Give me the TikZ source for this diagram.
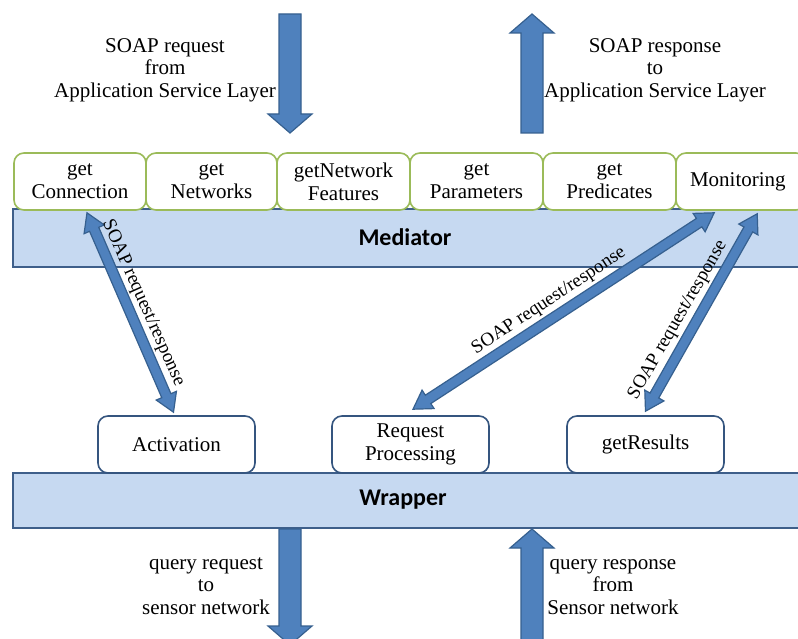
\documentclass[tikz,border=0pt]{standalone}
\usepackage{fontspec}
\setmainfont{Liberation Serif}
\newfontfamily\calfont{Carlito}
\usetikzlibrary{calc}
\definecolor{arrfill}{HTML}{4F81BD}
\definecolor{arrdraw}{HTML}{36608F}
\definecolor{barfill}{HTML}{C6D9F1}
\definecolor{bardraw}{HTML}{3E5F8A}
\definecolor{topdraw}{HTML}{9BBB59}
\definecolor{botdraw}{HTML}{35557F}
\newcommand\dblblock[5]{%
  \coordinate (tmpa) at ($(#1)!#3!(#2)$);
  \coordinate (tmpb) at ($(#2)!#3!(#1)$);
  \draw[blockarrow] (#1) -- ($(tmpa)!#4!90:(#2)$) -- ($(tmpa)!#5!90:(#2)$)
    -- ($(tmpb)!#5!-90:(#1)$) -- ($(tmpb)!#4!-90:(#1)$) -- (#2)
    -- ($(tmpb)!#4!90:(#1)$) -- ($(tmpb)!#5!90:(#1)$)
    -- ($(tmpa)!#5!-90:(#2)$) -- ($(tmpa)!#4!-90:(#2)$) -- cycle;}
\newcommand\oneblock[5]{%
  \coordinate (tmpb) at ($(#2)!#3!(#1)$);
  \draw[blockarrow] ($(#1)!#5!90:(#2)$) -- ($(tmpb)!#5!-90:(#1)$)
    -- ($(tmpb)!#4!-90:(#1)$) -- (#2) -- ($(tmpb)!#4!90:(#1)$)
    -- ($(tmpb)!#5!90:(#1)$) -- ($(#1)!#5!-90:(#2)$) -- cycle;}
\begin{document}
\begin{tikzpicture}[x=1pt,y=-1pt,
 blockarrow/.style={fill=arrfill,draw=arrdraw,line width=1.2pt,line join=miter},
 bar/.style={fill=barfill,draw=bardraw,line width=2pt,inner sep=0pt},
 bartext/.style={inner sep=0pt,font=\calfont\bfseries\fontsize{24}{28}\selectfont},
 topbox/.style={draw=topdraw,fill=white,line width=1.6pt,rounded corners=10pt,minimum height=57pt,align=center,inner sep=0pt,font=\fontsize{21}{23}\selectfont},
 botbox/.style={draw=botdraw,fill=white,line width=1.6pt,rounded corners=10pt,minimum width=157pt,minimum height=57pt,align=center,inner sep=0pt,font=\fontsize{21}{23}\selectfont},
 txt/.style={align=center,inner sep=0pt,font=\fontsize{21}{22.5}\selectfont},
 lbl/.style={inner sep=0pt,font=\fontsize{19}{21}\selectfont}]
\useasboundingbox (0,0) rectangle (798,639);
\fill[white] (0,0) rectangle (798,639);
% bars
\node[bar,minimum width=794pt,minimum height=58pt,anchor=north west] (med) at (12,208) {};
\node[bar,minimum width=794pt,minimum height=55pt,anchor=north west] (wrap) at (12,472) {};
\node[bartext] (medtxt) at (405,237) {Mediator};
\node[bartext] (wraptxt) at (403,500) {Wrapper};
% top boxes
\node[topbox,minimum width=132pt] (conn) at (80,181.5) {get\\Connection};
\node[topbox,minimum width=131pt] (nets) at (211.5,181.5) {get\\Networks};
\node[topbox,minimum width=133pt] (gnf) at (343.5,181.5) {getNetwork\\Features};
\node[topbox,minimum width=133pt] (par) at (476.5,181.5) {get\\Parameters};
\node[topbox,minimum width=133pt] (pred) at (609.5,181.5) {get\\Predicates};
\node[topbox,minimum width=130pt,text width=124pt,align=left] (mon) at (741,181.5) {\hspace{11pt}Monitoring};
% bottom boxes
\node[botbox] (act) at (176.5,444.5) {Activation};
\node[botbox] (req) at (410.5,444.5) {Request\\Processing};
\node[botbox] (res) at (645.5,444.5) {getResults};
% diagonal arrows
\coordinate (a1t) at ($(conn.south)+(7,2)$);
\coordinate (a1b) at ($(act.north)+(-3,-3)$);
\coordinate (a2t) at ($(mon.south west)+(39,2)$);
\coordinate (a2b) at ($(req.north)+(2.5,-6)$);
\coordinate (a3t) at ($(mon.south west)+(82,3)$);
\coordinate (a3b) at ($(res.north)+(0,-4)$);
\dblblock{a1t}{a1b}{18pt}{11pt}{5pt}
\dblblock{a2t}{a2b}{18pt}{11pt}{5pt}
\dblblock{a3t}{a3b}{18pt}{11pt}{5pt}
% vertical arrows
\coordinate (v1a) at (290,14);
\coordinate (v1b) at (290,133);
\coordinate (v2a) at (532,133);
\coordinate (v2b) at (532,14);
\coordinate (v3a) at ($(wrap.south west)+(278,0)$);
\coordinate (v3b) at (290,645);
\coordinate (v4a) at (532,645);
\coordinate (v4b) at ($(wrap.south west)+(520,0)$);
\oneblock{v1a}{v1b}{19pt}{22pt}{11pt}
\oneblock{v2a}{v2b}{19pt}{22pt}{11pt}
\oneblock{v3a}{v3b}{19pt}{22pt}{11pt}
\oneblock{v4a}{v4b}{19pt}{22pt}{11pt}
% texts
\node[txt] (t1) at (165,70) {SOAP request\\from\\Application Service Layer};
\node[txt] (t2) at (655,70) {SOAP response\\to\\Application Service Layer};
\node[txt] (t3) at (206,586) {query request\\to\\sensor network};
\node[txt] (t4) at (613,587) {query response\\from\\Sensor network};
% labels
\node[lbl,rotate=-66] (l1) at (143,303) {SOAP request/response};
\node[lbl,rotate=33.4] (l2) at (549,301) {SOAP request/response};
\node[lbl,rotate=60] (l3) at (678,320) {SOAP request/response};
\end{tikzpicture}
\end{document}
